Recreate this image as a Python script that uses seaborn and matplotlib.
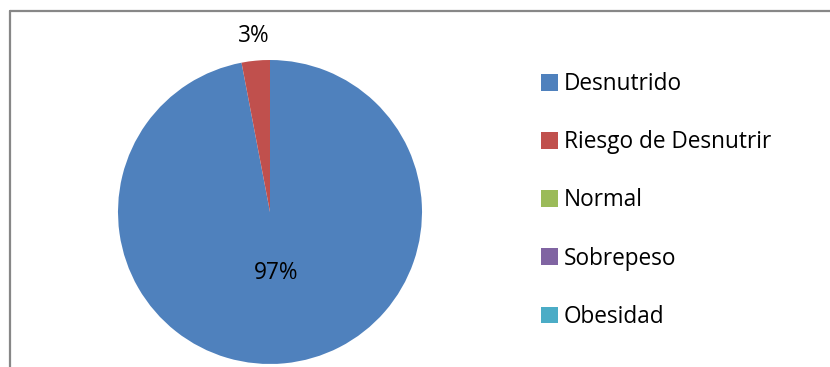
import matplotlib
matplotlib.use("Agg")
import matplotlib.pyplot as plt
from matplotlib.lines import Line2D
import numpy as np
import seaborn as sns

categories = ["Desnutrido", "Riesgo de Desnutrir", "Normal", "Sobrepeso", "Obesidad"]
values = [97, 3, 0, 0, 0]
colors = ["#4F81BD", "#C0504D", "#9BBB59", "#8064A2", "#4BACC6"]

sns.set_theme(style="white")
plt.rcParams["font.family"] = ["Open Sans", "DejaVu Sans"]
plt.rcParams["text.color"] = "black"

W, H = 830, 367
fig = plt.figure(figsize=(W / 100, H / 100), dpi=100)
fig.patch.set_facecolor("white")

# pie area: center (270, 212) px, radius 152 px
cx, cy, r = 270, 212, 152
ax = fig.add_axes([(cx - r) / W, (H - cy - r) / H, 2 * r / W, 2 * r / H])
palette = sns.color_palette(colors)

wedges, _ = ax.pie(values, colors=palette, startangle=90, counterclock=False,
                   radius=1, wedgeprops=dict(linewidth=0))
ax.set_xlim(-1, 1)
ax.set_ylim(-1, 1)
ax.set_aspect("equal")
ax.axis("off")

total = sum(values)
for w, v in zip(wedges, values):
    if v <= 0:
        continue
    mid = np.deg2rad((w.theta1 + w.theta2) / 2)
    pct = 100 * v / total
    dist = 1.16 if pct < 10 else 0.4
    ax.text(dist * np.cos(mid), dist * np.sin(mid), f"{pct:.0f}%",
            ha="center", va="center", fontsize=16.3, color="black", clip_on=False)

handles = [plt.Rectangle((0, 0), 1, 1, facecolor=c, edgecolor="none") for c in palette]
leg = fig.legend(handles, categories, loc="upper left",
                 bbox_to_anchor=(532 / W, 1 - 63 / H), frameon=False,
                 fontsize=16.3, handlelength=0.76, handleheight=0.76,
                 handletextpad=0.24, labelspacing=1.51, borderaxespad=0)
for t in leg.get_texts():
    t.set_color("black")

# chart area border (top and left edges)
fig.add_artist(Line2D([10 / W, 1], [1 - 11 / H, 1 - 11 / H], transform=fig.transFigure,
                      color="#878787", linewidth=1.6))
fig.add_artist(Line2D([10 / W, 10 / W], [0, 1 - 11 / H], transform=fig.transFigure,
                      color="#878787", linewidth=1.6))

fig.savefig("out.png", dpi=100, facecolor="white")
